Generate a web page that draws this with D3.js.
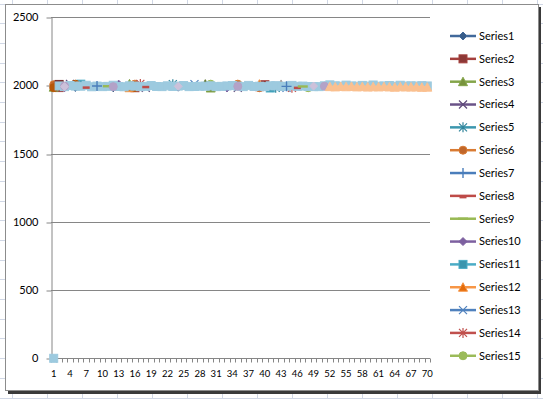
<!DOCTYPE html>
<html>
<head>
<meta charset="utf-8">
<script src="https://cdn.jsdelivr.net/npm/d3@7"></script>
<style>
  body { margin: 0; background: #fff; }
  svg { display: block; }
  text { font-family: Lato, "Open Sans", sans-serif; fill: #000; }
</style>
</head>
<body>
<div id="chart"></div>
<script>
// DATA
const categories = d3.range(1, 71);
const yTicks = [0, 500, 1000, 1500, 2000, 2500];
const xLabels = [1, 4, 7, 10, 13, 16, 19, 22, 25, 28, 31, 34, 37, 40, 43, 46, 49, 52, 55, 58, 61, 64, 67, 70];

// each series: [category, value] pairs (gaps are simply missing)
const s1 = [[5, 1984], [24, 1986], [39, 2006]];
const s2 = [[2, 1983], [16, 1982], [40, 2004]];
const s3 = [[1, 1986], [15, 2010], [30, 1980]];
const s4 = [[4, 2010], [18, 1982], [35, 1981]];
const s5 = [[23, 2008], [42, 1982]];
const s6 = [[1, 2004], [16, 2008], [35, 2008], [39, 1982]];
const s7 = [[9, 1995], [44, 1992]];
const s8 = [[7, 1992], [18, 1996], [46, 1990]];
const s9 = [[11, 1993], [47, 1991]];
const s10 = [[3, 1982], [13, 2008], [33, 1980]];
const s11 = [[6, 2008], [41, 1980]];
const s12 = [[15, 1982], [39, 2008]];
const s13 = [[27, 2008], [44, 1982]];
const s14 = [[17, 2010], [45, 1982]];
const s15 = [[30, 2008], [48, 1982]];
const s16 = [[12, 1982]];
const s17 = [[2, 2006], [39, 1990]];
const s18 = [[29, 2008]];
const s19 = [[3, 1994], [12, 1990], [35, 1992], [51, 1993]];
const s20 = [[43, 2006]];
const s21 = [[1, 1982], [5, 2008], [16, 1984]];
const s22 = [[3, 1990], [24, 1992], [49, 1994]];
const s23 = [
  [2, 1995], [3, 1990], [4, 1998], [5, 1994], [6, 1993], [7, 2000], [8, 1989], [9, 1994], [10, 1990], [11, 1992],
  [12, 2000], [13, 1991], [14, 1989], [15, 1996], [16, 1994], [17, 1990], [18, 1992], [19, 1998], [20, 1991], [21, 1990],
  [22, 1996], [23, 1991], [24, 1994], [25, 1998], [26, 1990], [27, 1991], [28, 1993], [29, 1993], [30, 1996], [31, 1990],
  [32, 1992], [33, 1995], [34, 1998], [35, 1994], [36, 1990], [37, 1999], [38, 1991], [39, 1993], [40, 1990], [41, 1996],
  [42, 1997], [43, 1991], [44, 1993], [45, 1999], [46, 1992], [47, 1994], [48, 1991], [49, 1990], [50, 1990], [51, 1996],
  [52, 2003], [53, 1996], [54, 1993], [55, 2001], [56, 1995], [57, 1993], [58, 1999], [59, 1994], [60, 2002], [61, 1993],
  [62, 1995], [63, 1998], [64, 1993], [65, 2000], [66, 1994], [67, 1996], [68, 1994], [69, 1997], [70, 1995]
];
const s24 = [
  [52, 1990], [53, 1988], [54, 1991], [55, 1989], [56, 1991], [57, 1988], [58, 1990], [59, 1987], [60, 1989], [61, 1988],
  [62, 1990], [63, 1988], [64, 1986], [65, 1989], [66, 1988], [67, 1987], [68, 1988], [69, 1985], [70, 1986]
];
const s25 = [[1, 0]];

const seriesNames = d3.range(1, 26).map((i) => "Series" + i);
const seriesData = [s1, s2, s3, s4, s5, s6, s7, s8, s9, s10, s11, s12, s13, s14, s15,
  s16, s17, s18, s19, s20, s21, s22, s23, s24, s25];

// STYLES (line colour, marker fill, marker type)
const lineColors = ["#41699B", "#A4403D", "#84A54A", "#6A5388", "#3C97AE", "#D97B33",
  "#4A7EBB", "#BE4B48", "#98B954", "#7D60A0", "#4BACC6", "#F79646",
  "#4F81BD", "#C0504D", "#9BBB59", "#2C4D75", "#772C2A", "#5F7530",
  "#B3A2C7", "#A5A5A5", "#B65708", "#CCC1DA", "#9DCADF", "#FAC090", "#9DCADF"];
const markerFills = ["#385D8A", "#8C3836", "#77933C", "#5F497A", "#31859C", "#C0662A",
  "#4A7EBB", "#BE4B48", "#98B954", "#7D60A0", "#3A95AE", "#E46C0A",
  "#4F81BD", "#C0504D", "#9BBB59", "#2C4D75", "#772C2A", "#5F7530",
  "#B3A2C7", "#A5A5A5", "#B65708", "#CCC1DA", "#9DCADF", "#FAC090", "#9DCADF"];
const markerTypes = ["diamond", "square", "triangle", "x", "star", "circle",
  "plus", "dash", "longdash", "diamond", "square", "triangle",
  "x", "star", "circle", "diamond", "square", "triangle",
  "circle", "triangle", "circle", "diamond", "square", "triangle", "square"];

// drawing order: most series under the light blue band, a few thin ones over it
const drawOrder = [0, 1, 2, 3, 4, 5, 9, 10, 11, 12, 13, 14, 15, 16, 17, 19, 20, 22, 6, 7, 8, 18, 21, 23, 24];

//   //   //   //   //   //   //   //   //
// PAGE

const W = 543;
const H = 399;

const svg = d3.select("#chart").append("svg").attr("width", W).attr("height", H);

// spreadsheet cell grid behind the chart
const sheet = svg.append("g");
d3.range(12, W, 35).forEach((gx) => {
  sheet.append("line").attr("x1", gx + 0.5).attr("x2", gx + 0.5).attr("y1", 0).attr("y2", H)
    .attr("stroke", "#D0D7E5");
});
d3.range(3.5, H, 19.7).forEach((gy) => {
  sheet.append("line").attr("x1", 0).attr("x2", W).attr("y1", Math.round(gy) + 0.5).attr("y2", Math.round(gy) + 0.5)
    .attr("stroke", "#D0D7E5");
});

// chart frame with shadow
svg.append("rect").attr("x", 8).attr("y", 7).attr("width", 533).attr("height", 387).attr("fill", "#3a3a3a");
svg.append("rect").attr("x", 5.5).attr("y", 4.5).attr("width", 533).attr("height", 386)
  .attr("fill", "#fff").attr("stroke", "#8C8C8C");

// PLOT
const plotL = 51, plotR = 430, plotT = 17, plotB = 358.3;

const x = d3.scaleBand().domain(categories).range([plotL, plotR]);
const y = d3.scaleLinear().domain([0, 2500]).range([plotB, plotT]);
const cx = (c) => x(c) + x.bandwidth() / 2;

// gridlines
svg.append("g").selectAll("line").data(yTicks.filter((v) => v > 0)).join("line")
  .attr("x1", plotL).attr("x2", plotR)
  .attr("y1", (d) => Math.round(y(d)) + 0.5).attr("y2", (d) => Math.round(y(d)) + 0.5)
  .attr("stroke", "#868686");

// y axis
const yAxis = svg.append("g").attr("transform", "translate(" + (plotL + 0.5) + ",0)")
  .call(d3.axisLeft(y).tickValues(yTicks).tickFormat(d3.format("d")).tickSize(5).tickPadding(8).tickSizeOuter(0));
yAxis.selectAll("line").attr("stroke", "#868686").attr("transform", (d) => "translate(0," + (Math.round(y(d)) + 0.5 - y(d)) + ")");
yAxis.select(".domain").attr("stroke", "#868686");
yAxis.selectAll("text").style("font-size", "11px").style("font-family", "Lato, sans-serif");

// x axis: line, small ticks at category boundaries, labels every 3
const xBase = Math.round(plotB) + 0.5;
svg.append("line").attr("x1", plotL).attr("x2", plotR).attr("y1", xBase).attr("y2", xBase).attr("stroke", "#868686");
svg.append("g").selectAll("line").data(categories.concat([71])).join("line")
  .attr("x1", (d) => Math.round(d === 71 ? plotR : x(d)) + 0.5)
  .attr("x2", (d) => Math.round(d === 71 ? plotR : x(d)) + 0.5)
  .attr("y1", xBase).attr("y2", xBase + 4)
  .attr("stroke", "#868686");

const xAxis = svg.append("g").attr("transform", "translate(0," + xBase + ")")
  .call(d3.axisBottom(x).tickValues(xLabels).tickSize(0).tickPadding(12));
xAxis.select(".domain").remove();
xAxis.selectAll("text").style("font-size", "9.5px").style("font-family", "Lato, sans-serif");

// MARKERS
function drawMarker(g, type, stroke, fill) {
  if (type === "diamond") {
    g.append("path").attr("d", "M0,-4L4,0L0,4L-4,0Z").attr("fill", fill).attr("stroke", stroke);
  } else if (type === "square") {
    g.append("rect").attr("x", -4).attr("y", -4).attr("width", 8).attr("height", 8)
      .attr("fill", fill).attr("stroke", stroke);
  } else if (type === "triangle") {
    g.append("path").attr("d", "M0,-4.5L4.5,4L-4.5,4Z").attr("fill", fill).attr("stroke", stroke);
  } else if (type === "x") {
    g.append("path").attr("d", "M-4,-4L4,4M-4,4L4,-4").attr("stroke", fill).attr("stroke-width", 1.2).attr("fill", "none");
  } else if (type === "star") {
    g.append("path").attr("d", "M-4,-4L4,4M-4,4L4,-4M0,-5L0,5").attr("stroke", fill).attr("stroke-width", 1.2).attr("fill", "none");
  } else if (type === "circle") {
    g.append("circle").attr("r", 4).attr("fill", fill).attr("stroke", stroke);
  } else if (type === "plus") {
    g.append("path").attr("d", "M0,-5L0,5M-5,0L5,0").attr("stroke", fill).attr("stroke-width", 1.4).attr("fill", "none");
  } else if (type === "dash") {
    g.append("rect").attr("x", -3.5).attr("y", 0).attr("width", 7).attr("height", 2.5).attr("fill", fill);
  } else if (type === "longdash") {
    g.append("rect").attr("x", -5).attr("y", -1.2).attr("width", 10).attr("height", 2.4).attr("fill", fill);
  }
}

// SERIES
const plot = svg.append("g");
const line = d3.line().x((d) => cx(d[0])).y((d) => y(d[1]));
drawOrder.forEach((i) => {
  const pts = seriesData[i];
  const g = plot.append("g").attr("class", "series");
  // lines only between consecutive categories
  let run = [];
  const runs = [];
  pts.forEach((p, k) => {
    if (k > 0 && p[0] !== pts[k - 1][0] + 1) { runs.push(run); run = []; }
    run.push(p);
  });
  runs.push(run);
  runs.filter((r) => r.length > 1).forEach((r) => {
    g.append("path").attr("d", line(r)).attr("fill", "none")
      .attr("stroke", lineColors[i]).attr("stroke-width", 2.5);
  });
  pts.forEach((p) => {
    const m = g.append("g").attr("transform", "translate(" + cx(p[0]) + "," + y(p[1]) + ")");
    drawMarker(m, markerTypes[i], lineColors[i], markerFills[i]);
  });
});

// LEGEND
const legend = svg.append("g");
seriesNames.slice(0, 15).forEach((name, i) => {
  const ly = 36 + i * 22.84;
  const item = legend.append("g").attr("transform", "translate(0," + ly + ")");
  item.append("line").attr("x1", 450).attr("x2", 476).attr("y1", 0).attr("y2", 0)
    .attr("stroke", lineColors[i]).attr("stroke-width", 2.5);
  const m = item.append("g").attr("transform", "translate(463,0)");
  drawMarker(m, markerTypes[i], lineColors[i], markerFills[i]);
  item.append("text").attr("x", 479).attr("y", 0).attr("dy", "0.35em")
    .style("font-size", "11px").text(name);
});
</script>
</body>
</html>
